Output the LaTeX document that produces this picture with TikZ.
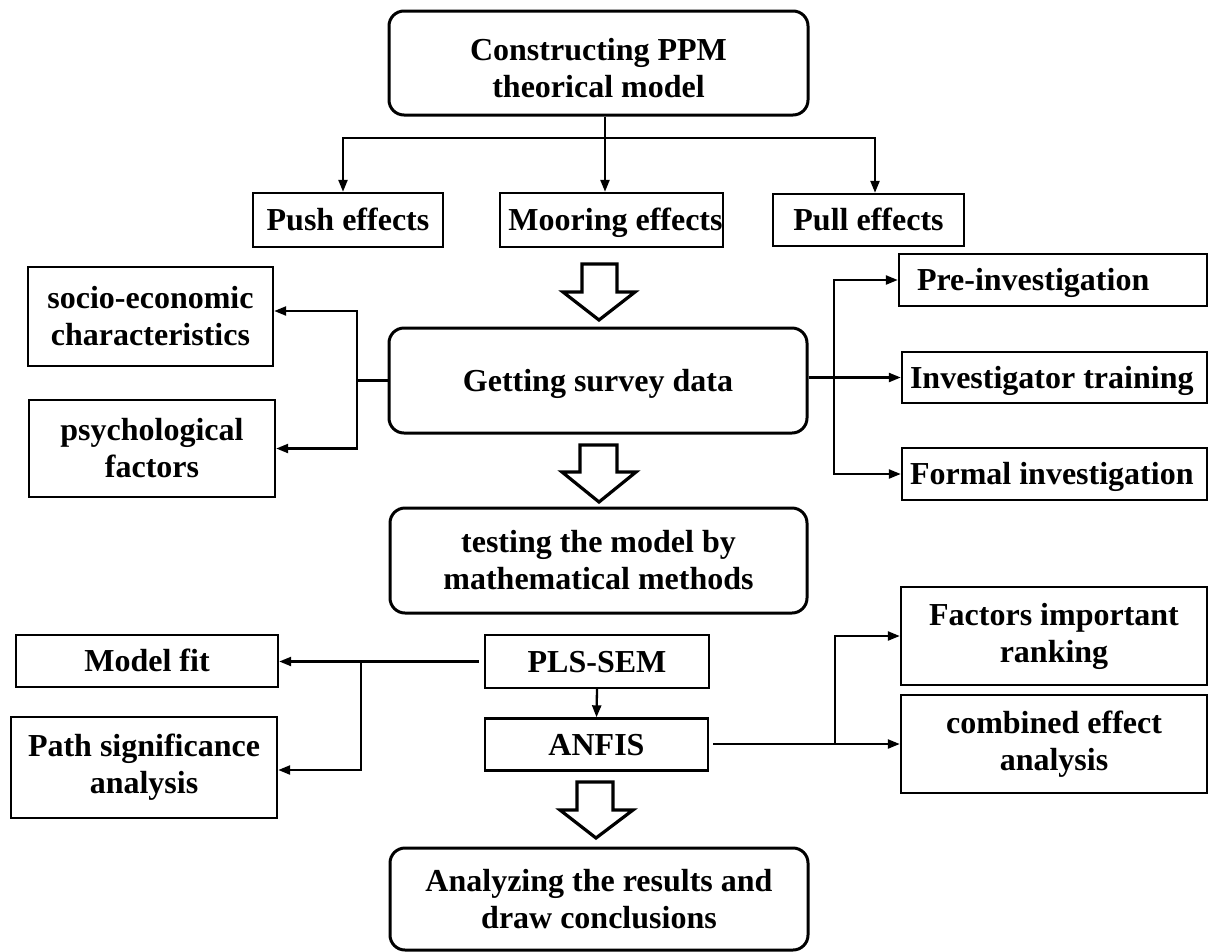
\documentclass[tikz,border=0pt]{standalone}
\usepackage{fontspec}
\setmainfont{Liberation Serif}
\usetikzlibrary{arrows.meta}
\tikzset{
  rbox/.style={draw, rounded corners=15pt, line width=3pt, inner sep=0pt, align=center},
  pbox/.style={draw, line width=2.4pt, inner sep=0pt, align=center},
  oneline/.style={text height=25pt, text depth=4pt},
  conn/.style={line width=2.3pt},
  arr/.style={conn, -{Triangle[length=12pt,width=9pt]}},
  blockarr/.style={draw, fill=white, line width=3.2pt, line join=miter},
}
\begin{document}
\begin{tikzpicture}[x=1pt,y=-1pt,font=\bfseries\fontsize{32}{37}\selectfont]
\useasboundingbox (0,0) rectangle (1210,951);

% main column
\node[rbox, minimum width=419pt, minimum height=104pt] (top) at (598.5,63) {\rule{0pt}{33pt}Constructing PPM\\theorical model};
\node[rbox, oneline, minimum width=418pt, minimum height=105pt] (gsd) at (598,380.5) {Getting survey data};
\node[rbox, minimum width=417pt, minimum height=105pt] (test) at (598.5,560.5) {testing the model by\\mathematical methods};
\node[pbox, oneline, minimum width=224pt, minimum height=53pt] (pls) at (597,661.5) {PLS-SEM};
\node[pbox, oneline, minimum width=223pt, minimum height=52pt] (anfis) at (596.5,744.5) {ANFIS};
\node[rbox, minimum width=418pt, minimum height=102pt] (final) at (599,899) {Analyzing the results and\\draw conclusions};

% effects row
\node[pbox, oneline, minimum width=190pt, minimum height=54pt] (push) at (348,220) {Push effects};
\node[pbox, oneline, minimum width=223pt, minimum height=54pt] (moor) at (611.5,220) {\hspace*{8pt}Mooring effects};
\node[pbox, oneline, minimum width=191pt, minimum height=52pt] (pull) at (868.5,220) {Pull effects};

% left boxes
\node[pbox, minimum width=245pt, minimum height=99pt] (socio) at (150.5,316.5) {socio-economic\\characteristics};
\node[pbox, minimum width=246pt, minimum height=97pt] (psych) at (152,448.5) {psychological\\factors};
\node[pbox, oneline, minimum width=262pt, minimum height=52pt] (mfit) at (147,661) {Model fit};
\node[pbox, minimum width=266pt, minimum height=101pt] (path) at (144,767.5) {Path significance\\analysis};

% right boxes
\node[pbox, oneline, minimum width=308pt, minimum height=52pt, inner xsep=18pt, text width=272pt, align=flush left] (pre) at (1053,280) {Pre-investigation};
\node[pbox, oneline, minimum width=305pt, minimum height=51pt, inner xsep=8pt, text width=289pt, align=flush left] (inv) at (1054.5,377.5) {Investigator training};
\node[pbox, oneline, minimum width=305pt, minimum height=52pt, inner xsep=8pt, text width=289pt, align=flush left] (formal) at (1054.5,474) {Formal investigation};
\node[pbox, minimum width=306pt, minimum height=98pt] (factors) at (1054,636) {Factors important\\ranking};
\node[pbox, minimum width=306pt, minimum height=98pt] (comb) at (1054,744) {combined effect\\analysis};

% top branching
\coordinate (jt) at (605,138);
\draw[arr] (top.south -| jt) -- (moor.north -| jt);
\draw[arr] (jt) -| ([xshift=-5pt]push.north);
\draw[arr] (jt) -| ([xshift=6.5pt]pull.north);

% block arrows
\draw[blockarr] (582,264) -- (617,264) -- (617,292) -- (635,292) -- (599,320) -- (563,292) -- (582,292) -- cycle;
\draw[blockarr] (580,445) -- (617,445) -- (617,472) -- (636,472) -- (599,502) -- (562,472) -- (580,472) -- cycle;
\draw[blockarr] (577,782) -- (613,782) -- (613,810) -- (633,810) -- (596,838) -- (560,810) -- (577,810) -- cycle;

% getting survey data: left branch
\coordinate (gl) at (357,380.5);
\draw[conn] (gsd.west) -- (gl);
\draw[arr] (gl) |- ([yshift=5.5pt]socio.east);
\draw[arr] (gl) |- (psych.east);

% getting survey data: right branch
\coordinate (gr) at (834,377.5);
\draw[arr] (gsd.east |- inv.west) -- (inv.west);
\draw[arr] (gr) |- (pre.west);
\draw[arr] (gr) |- (formal.west);

% PLS-SEM branch
\coordinate (pl) at (361,661.5);
\draw[arr] ([xshift=-5pt]pls.west) -- (mfit.east |- pls.west);
\draw[arr] (pl) |- ([yshift=-2.5pt]path.east);
\draw[arr] (pls.south) -- (anfis.north);

% ANFIS branch
\coordinate (ar) at (835,744);
\draw[arr] ([xshift=4pt]anfis.east |- comb.west) -- (comb.west);
\draw[arr] (ar) |- (factors.west);
\end{tikzpicture}
\end{document}
